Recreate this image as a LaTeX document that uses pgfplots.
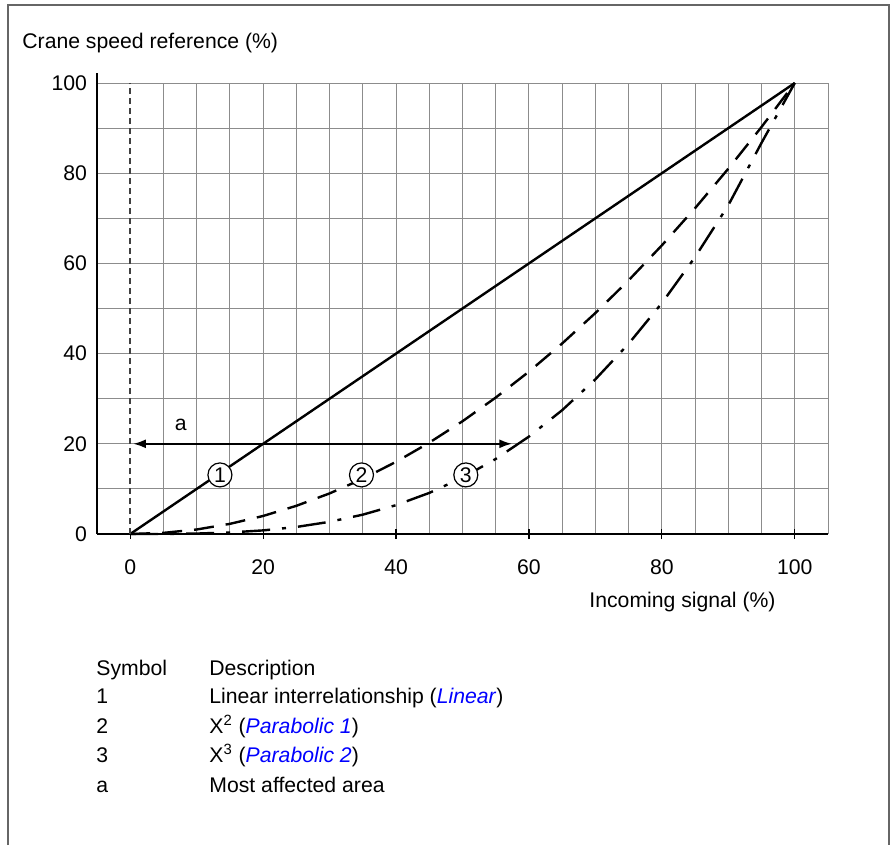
\documentclass[border=0pt]{standalone}
\usepackage{fontspec}
\setmainfont{Liberation Sans}
\usepackage{pgfplots}
\pgfplotsset{compat=1.18}
\usetikzlibrary{arrows.meta}

\begin{document}
\begin{tikzpicture}[font=\fontsize{10.6}{12.5}\selectfont]
% page frame and free texts, in pixel units of the reference
\begin{scope}[x=0.5pt,y=-0.5pt,every node/.style={inner sep=0pt}]
\path (0,0) rectangle (896,845);
\draw[line width=1pt, black!60] (8,845) -- (8,5) -- (889,5) -- (889,845);
\node[anchor=base west] at (22,48) {Crane speed reference (\%)};
\node[anchor=base east] at (776,607) {Incoming signal (\%)};
% symbol table
\node[anchor=base west] at (96,675) {Symbol};
\node[anchor=base west] at (209,675) {Description};
\node[anchor=base west] at (96,703) {1};
\node[anchor=base west] at (209,703) {Linear interrelationship (\textcolor{blue}{\textit{Linear}})};
\node[anchor=base west] at (96,733) {2};
\node[anchor=base west] at (209,733) {X\textsuperscript{2} (\textcolor{blue}{\textit{Parabolic 1}})};
\node[anchor=base west] at (96,762) {3};
\node[anchor=base west] at (209,762) {X\textsuperscript{3} (\textcolor{blue}{\textit{Parabolic 2}})};
\node[anchor=base west] at (96,792) {a};
\node[anchor=base west] at (209,792) {Most affected area};
\end{scope}

\begin{axis}[
    at={(48.5pt,-267pt)}, anchor=south west,
    scale only axis, width=365.5pt, height=225.5pt,
    xmin=-5, xmax=105, ymin=0, ymax=100,
    axis x line*=bottom, axis y line*=left,
    axis line style={line width=1.4pt},
    y axis line style={shorten >=-5pt},
    xtick={0,20,...,100}, ytick={0,20,...,100},
    minor xtick={5,10,...,105}, minor ytick={10,20,...,100},
    xminorgrids, yminorgrids,
    minor grid style={black!45, line width=0.5pt},
    minor tick length=0pt,
    xtick align=center, major tick length=5pt,
    ytick style={draw=none},
    xtick style={black, line width=0.6pt},
    /pgf/number format/assume math mode=true,
    xticklabel style={yshift=-7pt},
    yticklabel style={xshift=-1.5pt},
    clip=false,
    ]
% 1: linear
\addplot[black, line width=1.2pt] coordinates {(0,0) (100,100)};
% 2: x^2
\addplot[black, line width=1.2pt, dash pattern=on 10pt off 6pt] coordinates {
(0,0) (5,0.25) (10,1) (15,2.25) (20,4) (25,6.25) (30,9) (35,12.25) (40,16)
(45,20.25) (50,25) (55,30.25) (60,36) (65,42.25) (70,49) (75,56.25) (80,64)
(85,72.25) (90,81) (95,90.25) (100,100)};
% 3: x^3
\addplot[black, line width=1.2pt, dash pattern=on 14pt off 6pt on 2pt off 6pt] coordinates {
(0,0) (5,0.01) (10,0.1) (15,0.34) (20,0.8) (25,1.56) (30,2.7) (35,4.29) (40,6.4)
(45,9.11) (50,12.5) (55,16.64) (60,21.6) (65,27.46) (70,34.3) (75,42.19) (80,51.2)
(85,61.41) (90,72.9) (95,86.74) (100,100)};
\draw[black!75, line width=0.8pt, dash pattern=on 3pt off 2pt] (axis cs:0,0) -- (axis cs:0,100);
\draw[{Latex[length=6.5pt,width=4.5pt]}-{Latex[length=6.5pt,width=4.5pt]}, line width=1.2pt]
    (axis cs:0.4,20) -- (axis cs:57.5,20);
\node at (axis cs:7.6,24.2) {a};
\node[circle, draw, fill=white, inner sep=0pt, minimum size=12pt, line width=0.6pt] at (axis cs:13.5,13.1) {1};
\node[circle, draw, fill=white, inner sep=0pt, minimum size=12pt, line width=0.6pt] at (axis cs:34.8,13.1) {2};
\node[circle, draw, fill=white, inner sep=0pt, minimum size=12pt, line width=0.6pt] at (axis cs:50.5,13.1) {3};
\end{axis}
\end{tikzpicture}
\end{document}
